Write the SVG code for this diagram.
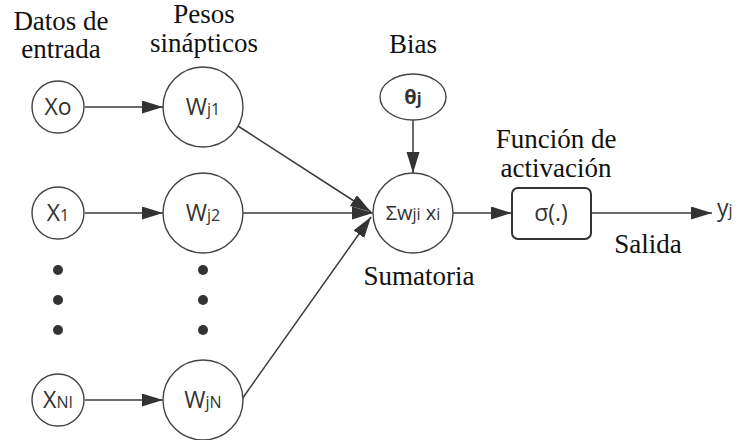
<svg xmlns="http://www.w3.org/2000/svg" width="744" height="440" viewBox="0 0 744 440">
  <defs>
    <style>
      .node { fill: #fff; stroke: #444; stroke-width: 1.4; }
      .box { fill: #fff; stroke: #333; stroke-width: 2; }
      .dot { fill: #333; }
      .edge { fill: none; stroke: #3a3a3a; stroke-width: 1.5; marker-end: url(#arrow); }
      .cap { font-family: "Liberation Serif", "Times New Roman", serif; font-size: 27px; fill: #111; text-anchor: middle; }
      .lbl { font-family: "Open Sans", "DejaVu Sans", sans-serif; font-size: 23px; fill: #333; text-anchor: middle; }
      .sub { font-size: 16px; }
    </style>
    <marker id="arrow" markerUnits="userSpaceOnUse" markerWidth="22" markerHeight="14" refX="21" refY="6.5" orient="auto">
      <path d="M0,0 L21,6.5 L0,13 Z" fill="#333"/>
    </marker>
  </defs>

  <!-- captions -->
  <g>
    <text class="cap" x="61" y="30">Datos de</text>
    <text class="cap" x="61" y="58">entrada</text>
    <text class="cap" x="204" y="23">Pesos</text>
    <text class="cap" x="204" y="52">sinápticos</text>
    <text class="cap" x="413" y="53">Bias</text>
    <text class="cap" x="556" y="148">Función de</text>
    <text class="cap" x="556" y="177">activación</text>
    <text class="cap" x="419" y="285">Sumatoria</text>
    <text class="cap" x="648" y="253">Salida</text>
  </g>

  <!-- connectors -->
  <g id="connectors">
    <line class="edge" x1="85" y1="107" x2="163" y2="107"/>
    <line class="edge" x1="85" y1="213" x2="163" y2="213"/>
    <line class="edge" x1="85" y1="400" x2="163" y2="400"/>
    <line class="edge" x1="238" y1="126" x2="371" y2="212"/>
    <line class="edge" x1="243" y1="213" x2="373" y2="213"/>
    <line class="edge" x1="242" y1="399" x2="371" y2="217"/>
    <line class="edge" x1="413" y1="120" x2="413" y2="173"/>
    <line class="edge" x1="453" y1="213" x2="512" y2="213"/>
    <line class="edge" x1="591" y1="213" x2="712" y2="213"/>
  </g>

  <!-- inputs -->
  <g id="x0">
    <circle class="node" cx="58" cy="107" r="26"/>
    <text class="lbl" x="58" y="115">Xo</text>
  </g>
  <g id="x1">
    <circle class="node" cx="58" cy="213" r="26"/>
    <text class="lbl" x="58" y="221">X<tspan class="sub">1</tspan></text>
  </g>
  <g id="xn">
    <circle class="node" cx="58" cy="400" r="26"/>
    <text class="lbl" x="58" y="408">X<tspan class="sub">NI</tspan></text>
  </g>
  <g id="input-dots">
    <circle class="dot" cx="58" cy="270" r="5"/>
    <circle class="dot" cx="58" cy="300" r="5"/>
    <circle class="dot" cx="58" cy="330" r="5"/>
  </g>

  <!-- weights -->
  <g id="wj1">
    <circle class="node" cx="203" cy="107" r="40"/>
    <text class="lbl" x="203" y="115">W<tspan class="sub">j1</tspan></text>
  </g>
  <g id="wj2">
    <circle class="node" cx="203" cy="213" r="40"/>
    <text class="lbl" x="203" y="221">W<tspan class="sub">j2</tspan></text>
  </g>
  <g id="wjn">
    <circle class="node" cx="203" cy="400" r="40"/>
    <text class="lbl" x="203" y="408">W<tspan class="sub">jN</tspan></text>
  </g>
  <g id="weight-dots">
    <circle class="dot" cx="203" cy="270" r="5"/>
    <circle class="dot" cx="203" cy="300" r="5"/>
    <circle class="dot" cx="203" cy="330" r="5"/>
  </g>

  <!-- bias -->
  <g id="bias">
    <ellipse class="node" cx="413" cy="97" rx="33" ry="23"/>
    <text class="lbl" x="413" y="104" style="font-weight:bold;font-size:20px">θ<tspan class="sub">j</tspan></text>
  </g>

  <!-- summation -->
  <g id="sum">
    <circle class="node" cx="413" cy="213" r="40"/>
    <text class="lbl" x="413" y="220" style="font-size:20px">Σw<tspan class="sub">ji</tspan> x<tspan class="sub">i</tspan></text>
  </g>

  <!-- activation -->
  <g id="activation">
    <rect class="box" x="512" y="188" width="79" height="51" rx="6"/>
    <text class="lbl" x="551" y="221">σ(.)</text>
  </g>

  <!-- output -->
  <g id="output">
    <text class="lbl" x="717" y="216" style="text-anchor:start">y<tspan class="sub">j</tspan></text>
  </g>
</svg>
